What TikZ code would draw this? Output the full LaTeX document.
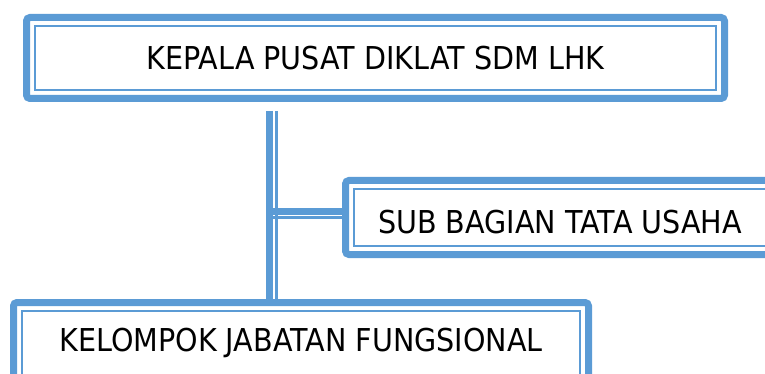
\documentclass[tikz,border=0pt]{standalone}
\usepackage{fontspec}
\setmainfont[FakeStretch=0.908]{DejaVu Sans}
\definecolor{biru}{HTML}{5B9BD5}

\tikzset{
	kotak/.style={draw=biru, line width=7pt, rounded corners=3.5pt, inner sep=0pt, outer sep=0pt, font=\fontsize{31.5}{36}\selectfont},
	garistebal/.style={draw=biru, line width=7pt},
	garistipis/.style={draw=biru, line width=2.2pt}
}

\begin{document}
\begin{tikzpicture}[x=1pt,y=-1pt]
	
	\useasboundingbox (0,0) rectangle (765,374);
	
	\node[kotak, minimum width=698pt, minimum height=81pt] (kepala)   at (375.5, 58)  {KEPALA PUSAT DIKLAT SDM LHK};
	\node[kotak, minimum width=429pt, minimum height=74pt, text height=31pt, text depth=0pt] (subbag) at (560, 217.5) {SUB BAGIAN TATA USAHA};
	\node[kotak, minimum width=575pt, minimum height=81pt] (kelompok) at (301, 343)   {KELOMPOK JABATAN FUNGSIONAL};
	
	% garis tipis di dalam kotak
	\draw[garistipis] ([shift={(8.5pt,-8.5pt)}]kepala.north west)   rectangle ([shift={(-8.5pt,8.5pt)}]kepala.south east);
	\draw[garistipis] ([shift={(8.5pt,-8.5pt)}]subbag.north west)   rectangle ([shift={(-8.5pt,8.5pt)}]subbag.south east);
	\draw[garistipis] ([shift={(8.5pt,-8.5pt)}]kelompok.north west) rectangle ([shift={(-8.5pt,8.5pt)}]kelompok.south east);
	
	\coordinate (cabang) at (269, 111);
	
	\draw[garistebal] (cabang) -- (cabang |- kelompok.north);
	\draw[garistipis] ([xshift=7.5pt]cabang) -- ([xshift=7.5pt]cabang |- kelompok.north);
	
	\draw[garistebal] ([yshift=6.5pt]subbag.west -| cabang) -- ([yshift=6.5pt]subbag.west);
	\draw[garistipis] (subbag.west -| cabang) -- (subbag.west);
	
\end{tikzpicture}
\end{document}
